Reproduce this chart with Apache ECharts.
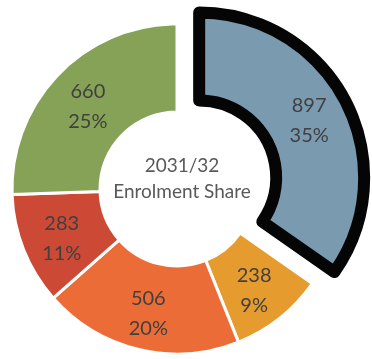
<!DOCTYPE html>
<html>
<head>
<meta charset="utf-8">
<style>
  html, body { margin: 0; padding: 0; background: #ffffff; }
  #chart { width: 372px; height: 359px; }
</style>
<script src="https://cdn.jsdelivr.net/npm/echarts@6/dist/echarts.min.js"></script>
</head>
<body>
<div id="chart"></div>
<script>
// Enrolment by group, listed clockwise from 12 o'clock
const groups = ['Group A', 'Group B', 'Group C', 'Group D', 'Group E'];
const enrolment = [897, 238, 506, 283, 660];
const sliceColors = ['#7a9ab0', '#e59b2e', '#eb6c36', '#cc4a35', '#85a256'];
const highlighted = 0; // slice pulled out and outlined
const centerLines = ['2031/32', 'Enrolment Share'];

const FONT = 'Lato, "Open Sans", sans-serif';

const chart = echarts.init(document.getElementById('chart'), null, { renderer: 'canvas' });

const outline = { borderColor: '#050505', borderWidth: 12, borderJoin: 'round' };

const data = enrolment.map((v, i) => {
  const item = {
    name: groups[i],
    value: v,
    itemStyle: { color: sliceColors[i] }
  };
  if (i === highlighted) {
    item.selected = true;
    item.itemStyle = Object.assign({ color: sliceColors[i] }, outline);
    item.select = { itemStyle: Object.assign({ color: sliceColors[i] }, outline) };
  }
  return item;
});

chart.setOption({
  animation: false,
  backgroundColor: '#ffffff',
  graphic: [{
    type: 'text',
    x: 182,
    y: 179,
    z: 100,
    style: {
      text: centerLines.join('\n'),
      x: 0, y: 0,
      align: 'center',
      verticalAlign: 'middle',
      fontFamily: FONT,
      fontSize: 19,
      lineHeight: 26,
      fill: '#595959'
    }
  }],
  series: [{
    type: 'pie',
    center: [177, 189],
    radius: [77, 165],
    startAngle: 90,
    clockwise: true,
    selectedMode: 'single',
    selectedOffset: 25,
    avoidLabelOverlap: false,
    itemStyle: {
      borderColor: '#ffffff',
      borderWidth: 3
    },
    emphasis: { disabled: true },
    label: {
      show: true,
      position: 'inside',
      formatter: '{c}\n{d}%',
      fontFamily: FONT,
      fontSize: 20,
      lineHeight: 30,
      offset: [0, 4],
      color: '#404040'
    },
    percentPrecision: 0,
    labelLine: { show: false },
    data: data
  }]
});
</script>
</body>
</html>
